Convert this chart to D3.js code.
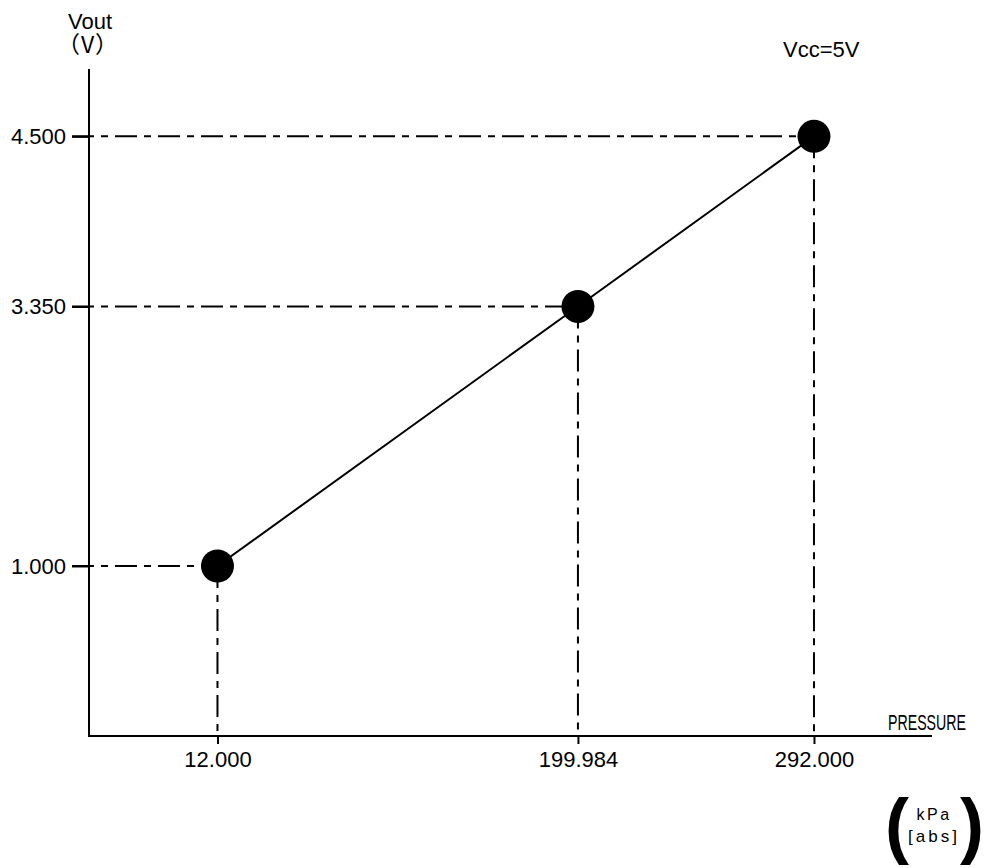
<!DOCTYPE html>
<html>
<head>
<meta charset="utf-8">
<script src="https://cdn.jsdelivr.net/npm/d3@7"></script>
<style>
  html, body { margin: 0; padding: 0; background: #fff; }
  svg { display: block; }
  text { font-family: "Liberation Sans", Arial, sans-serif; fill: #000; }
</style>
</head>
<body>
<div id="chart"></div>
<script>
// Output characteristic: sensor output voltage against absolute pressure
const pressure = [12.000, 199.984, 292.000];          // kPa [abs]
const vout = [1.000, 3.350, 4.500];                   // V
const xTickLabels = ["12.000", "199.984", "292.000"];
const yTickLabels = ["1.000", "3.350", "4.500"];

const W = 992, H = 868;
const frame = { left: 89, right: 932, top: 69, bottom: 736 };
const plotW = frame.right - frame.left;
const plotH = frame.bottom - frame.top;

// The drawing is schematic: tick positions are spaced by hand rather than
// proportionally, so both scales are piecewise linear through the three points.
const xFrac = [0.1524, 0.580, 0.860];
const yFrac = [0.2549, 0.644, 0.899];

const x = d3.scaleLinear()
  .domain(pressure)
  .range(xFrac.map(f => frame.left + f * plotW));
const y = d3.scaleLinear()
  .domain(vout)
  .range(yFrac.map(f => frame.bottom - f * plotH));

const svg = d3.select("#chart").append("svg")
  .attr("width", W).attr("height", H);

const points = pressure.map((p, i) => ({ p, v: vout[i] }));

// Dash-dot leader lines to both axes
const dash = "22,7,7,7";
const tickLeft = 17;
svg.append("g").selectAll("line").data(points).join("line")
  .attr("x1", frame.left - tickLeft).attr("x2", d => x(d.p))
  .attr("y1", d => y(d.v)).attr("y2", d => y(d.v))
  .attr("stroke", "#000").attr("stroke-width", 2)
  .attr("stroke-dasharray", dash);
svg.append("g").selectAll("line").data(points).join("line")
  .attr("x1", d => x(d.p)).attr("x2", d => x(d.p))
  .attr("y1", d => y(d.v)).attr("y2", frame.bottom)
  .attr("stroke", "#000").attr("stroke-width", 2)
  .attr("stroke-dasharray", dash);

// Axes
const xAxis = d3.axisBottom(x)
  .tickValues(pressure)
  .tickFormat((d, i) => xTickLabels[i])
  .tickSize(8).tickPadding(7);
const yAxis = d3.axisLeft(y)
  .tickValues(vout)
  .tickFormat((d, i) => yTickLabels[i])
  .tickSize(tickLeft).tickPadding(6);

const gx = svg.append("g").attr("transform", `translate(0,${frame.bottom})`).call(xAxis);
const gy = svg.append("g").attr("transform", `translate(${frame.left},0)`).call(yAxis);
[gx, gy].forEach(g => {
  g.select(".domain").remove();
  g.selectAll(".tick line").attr("stroke", "#000").attr("stroke-width", 2);
  g.selectAll(".tick text")
    .attr("font-family", "Liberation Sans, Arial, sans-serif")
    .attr("font-size", 22).attr("fill", "#000");
});

// Axis lines spanning the full frame
svg.append("line")
  .attr("x1", frame.left - 1).attr("x2", frame.right)
  .attr("y1", frame.bottom).attr("y2", frame.bottom)
  .attr("stroke", "#000").attr("stroke-width", 2);
svg.append("line")
  .attr("x1", frame.left).attr("x2", frame.left)
  .attr("y1", frame.top).attr("y2", frame.bottom + 1)
  .attr("stroke", "#000").attr("stroke-width", 2);

// Characteristic line and data points
svg.append("path")
  .datum(points)
  .attr("d", d3.line().x(d => x(d.p)).y(d => y(d.v)))
  .attr("fill", "none").attr("stroke", "#000").attr("stroke-width", 2);
svg.append("g").selectAll("circle").data(points).join("circle")
  .attr("cx", d => x(d.p)).attr("cy", d => y(d.v))
  .attr("r", 16.5).attr("fill", "#000");

// Axis titles and annotations
svg.append("text").attr("x", frame.left + 1).attr("y", 29)
  .attr("text-anchor", "middle").attr("font-size", 22).text("Vout");
svg.append("text").attr("x", frame.left - 1).attr("y", 53)
  .attr("text-anchor", "middle").attr("font-size", 23)
  .attr("letter-spacing", 1)
  .style("font-family", "'Noto Sans CJK SC', sans-serif")
  .text("（V）");
svg.append("text").attr("x", 783).attr("y", 57)
  .attr("font-size", 22).text("Vcc=5V");
svg.append("text")
  .attr("transform", "translate(888,730) scale(0.645,1)")
  .attr("font-size", 22)
  .text("PRESSURE");

// Unit in large brackets
const unit = svg.append("g");
unit.append("text").attr("x", 885).attr("y", 850)
  .attr("font-size", 72).attr("font-weight", "bold").text("(");
unit.append("text").attr("x", 960).attr("y", 850)
  .attr("font-size", 72).attr("font-weight", "bold").text(")");
unit.append("text").attr("x", 934).attr("y", 820)
  .attr("text-anchor", "middle").attr("font-size", 16)
  .attr("letter-spacing", 2.5).text("kPa");
unit.append("text").attr("x", 934).attr("y", 842)
  .attr("text-anchor", "middle").attr("font-size", 17)
  .attr("letter-spacing", 3).text("[abs]");
</script>
</body>
</html>
